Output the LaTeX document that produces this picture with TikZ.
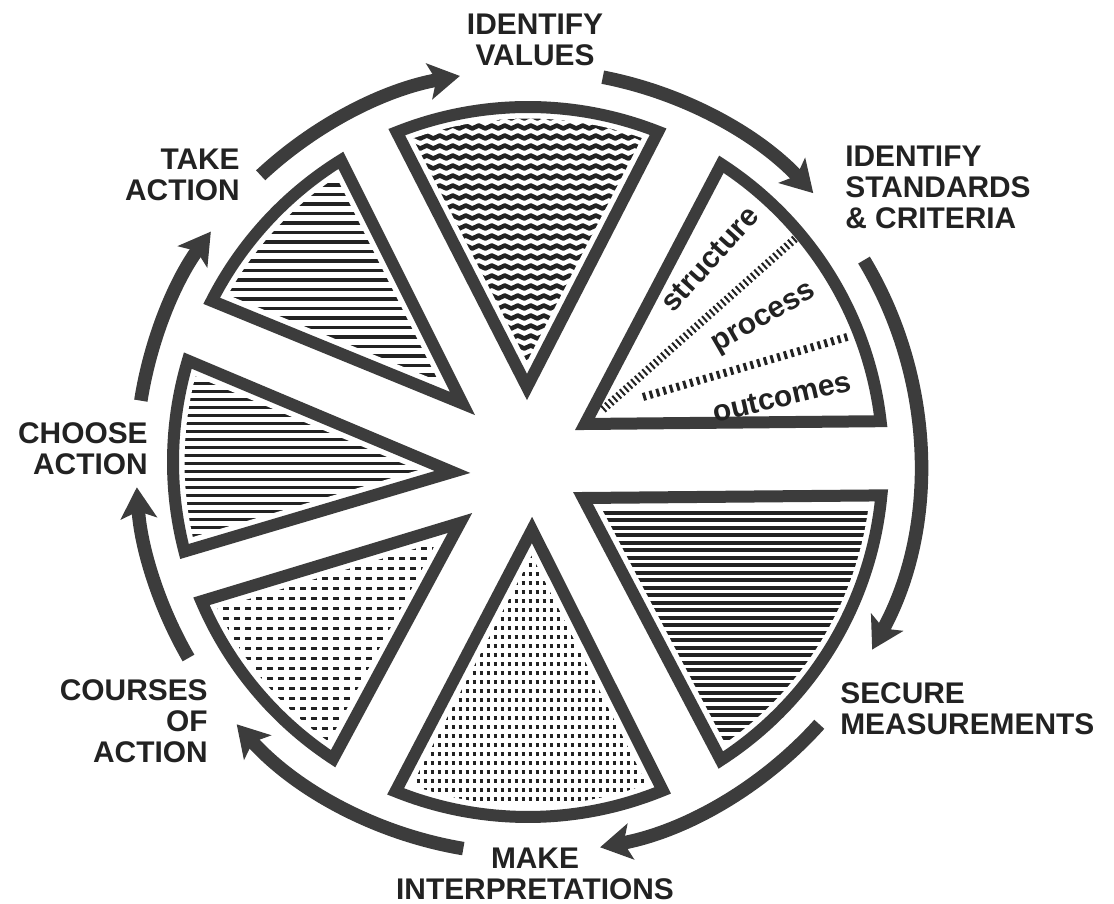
\documentclass[tikz,border=0pt]{standalone}
\usepackage{fontspec}
\setmainfont{Liberation Sans}
\usetikzlibrary{arrows.meta,decorations.pathmorphing}

\definecolor{ink}{HTML}{222222}
\definecolor{rim}{HTML}{3C3C3C}

\begin{document}
\begin{tikzpicture}[
  font=\fontsize{17}{17.6}\selectfont\bfseries,
  lbl/.style    = {text=ink, inner sep=0pt},
  sub/.style    = {text=ink, inner sep=0pt},
  wedge/.style  = {draw=white, line width=0.46cm, line join=round,
                   postaction={draw=rim, line width=0.24cm, line join=miter}},
  hatch/.style 2 args = {path picture={
      \foreach \k in {0,...,70}
        \draw[#2] ([yshift=\k*#1]path picture bounding box.south west)
               -- ([yshift=\k*#1]path picture bounding box.south east);}},
  hl/.style     = {draw=ink, line width=#1},
  wavy/.style   = {draw=ink, line width=0.09cm, decorate,
                   decoration={snake, amplitude=0.03cm, segment length=0.26cm}},
  cyc/.style    = {draw=rim, line width=0.27cm,
                   -{Stealth[length=0.62cm, width=0.72cm, inset=0.14cm]}},
  tick/.style   = {draw=ink, line width=0.16cm},
]
\useasboundingbox (-10.56,-8.84) rectangle (11.72,9.24);
\def\Rw{7.1}
\def\Ra{7.84}

%%────────── wedges ──────────────────────────────────────────
\coordinate (apVal) at (-0.02, 1.50);
\coordinate (apStd) at ( 1.14, 0.76);
\coordinate (apSec) at ( 1.10,-0.72);
\coordinate (apInt) at ( 0.08,-1.36);
\coordinate (apCou) at (-1.36,-1.22);
\coordinate (apCho) at (-1.51,-0.20);
\coordinate (apTak) at (-1.31, 1.17);

\path[wedge, hatch={0.2cm}{wavy}]
  (apVal) -- (68.5:\Rw) arc[start angle=68.5, end angle=111.7, radius=\Rw] -- cycle;
\path[wedge]
  (apStd) -- (6.6:\Rw) arc[start angle=6.6, end angle=57, radius=\Rw] -- cycle;
\path[wedge, hatch={0.15cm}{hl=0.08cm}]
  (apSec) -- (-57.1:\Rw) arc[start angle=-57.1, end angle=-5.4, radius=\Rw] -- cycle;
\path[wedge, hatch={0.18cm}{hl=0.07cm, dash pattern=on 0.06cm off 0.08cm}]
  (apInt) -- (-111.9:\Rw) arc[start angle=-111.9, end angle=-67.7, radius=\Rw] -- cycle;
\path[wedge, hatch={0.2cm}{hl=0.07cm, dash pattern=on 0.12cm off 0.1cm}]
  (apCou) -- (203.1:\Rw) arc[start angle=203.1, end angle=236.7, radius=\Rw] -- cycle;
\path[wedge, hatch={0.16cm}{hl=0.06cm}]
  (apCho) -- (163.4:\Rw) arc[start angle=163.4, end angle=194.6, radius=\Rw] -- cycle;
\path[wedge, hatch={0.19cm}{hl=0.07cm}]
  (apTak) -- (121.8:\Rw) arc[start angle=121.8, end angle=153, radius=\Rw] -- cycle;

%% structure / process / outcomes
\coordinate (s1a) at (1.50,1.05);
\coordinate (s1b) at (5.37,4.49);
\coordinate (s2a) at (2.30,1.30);
\coordinate (s2b) at (6.45,2.52);
\draw[tick, dash pattern=on 0.04cm off 0.06cm] (s1a) -- (s1b);
\draw[tick, dash pattern=on 0.06cm off 0.08cm] (s2a) -- (s2b);
\node[sub, rotate=48] (structure) at (3.64,4.06) {structure};
\node[sub, rotate=30] (process)   at (4.74,2.84) {process};
\node[sub, rotate=13] (outcomes)  at (5.08,1.30) {outcomes};

%%────────── labels ──────────────────────────────────────────
\node[lbl, align=center]             (values)    at ( 0.14, 8.44) {IDENTIFY\\VALUES};
\node[lbl, align=left,  anchor=west] (standards) at ( 6.34, 5.49) {IDENTIFY\\STANDARDS\\\& CRITERIA};
\node[lbl, align=left,  anchor=west] (secure)    at ( 6.24,-4.94) {SECURE\\MEASUREMENTS};
\node[lbl, align=center]             (interp)    at ( 0.14,-8.23) {MAKE\\INTERPRETATIONS};
\node[lbl, align=right, anchor=east] (courses)   at (-6.40,-5.18) {COURSES\\OF\\ACTION};
\node[lbl, align=right, anchor=east] (choose)    at (-7.60, 0.27) {CHOOSE\\ACTION};
\node[lbl, align=right, anchor=east] (take)      at (-5.76, 5.74) {TAKE\\ACTION};

%%────────── cycle arrows ────────────────────────────────────
\coordinate (t1) at (133:\Ra);
\coordinate (t2) at (79:\Ra);
\coordinate (t3) at (31:\Ra);
\coordinate (t4) at (-42:\Ra);
\coordinate (t5) at (260.5:\Ra);
\coordinate (t6) at (210:\Ra);
\coordinate (t7) at (171:\Ra);
\draw[cyc] (t1) arc[start angle=133,   end angle=100,   radius=\Ra];
\draw[cyc] (t2) arc[start angle=79,    end angle=43.3,  radius=\Ra];
\draw[cyc] (t3) arc[start angle=31,    end angle=-28.6, radius=\Ra];
\draw[cyc] (t4) arc[start angle=-42,   end angle=-79.4, radius=\Ra];
\draw[cyc] (t5) arc[start angle=260.5, end angle=222,   radius=\Ra];
\draw[cyc] (t6) arc[start angle=210,   end angle=183.7, radius=\Ra];
\draw[cyc] (t7) arc[start angle=171,   end angle=144,   radius=\Ra];

\end{tikzpicture}
\end{document}
